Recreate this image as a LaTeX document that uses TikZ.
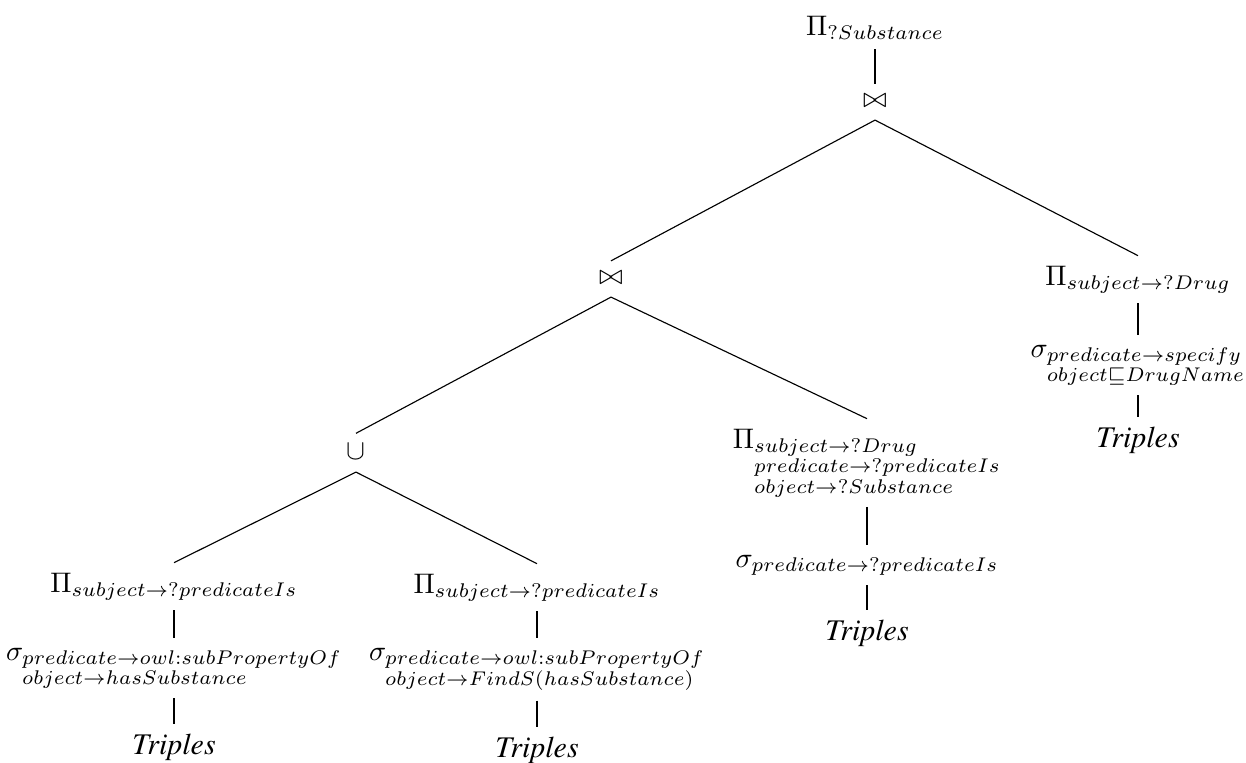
\documentclass[tikz,border=0pt]{standalone}
\usepackage{amsmath}
\usepackage[T1,TU]{fontenc}
% Times italic for the leaf relations
\newcommand\leaffont{\fontencoding{T1}\fontfamily{ptm}\fontseries{m}\fontshape{it}\fontsize{10.6}{12}\selectfont}

\tikzset{
  alg/.style={anchor=base, inner sep=3.33pt},
  op/.style={anchor=base, inner sep=3.33pt, text depth=1.1pt},
  trip/.style={anchor=base, inner sep=3.33pt, font=\leaffont},
  branch/.style={line width=0.4pt}
}

\begin{document}
\begin{tikzpicture}[x=0.3534pt, y=-0.3534pt]
\useasboundingbox (0,0) rectangle (1246,762);

% root projection and top join
\node[alg] (root) at (875,35) {$\Pi_{?Substance}$};
\node[op] (j1) at (875,107) {$\bowtie$};

% right branch: drug name lookup
\node[alg] (pR) at (1138,285) {$\Pi_{subject\rightarrow ?Drug}$};
\node[alg] (sR) at (1138,357) {$\sigma_{\begin{subarray}{l} predicate\rightarrow specify\\ object\sqsubseteq DrugName\end{subarray}}$};
\node[trip] (tR) at (1138,447) {Triples};

% inner join
\node[op] (j2) at (611,284) {$\bowtie$};

% middle branch
\node[alg] (pM) at (867,448) {$\Pi_{\begin{subarray}{l} subject\rightarrow ?Drug\\ predicate\rightarrow ?predicateIs\\ object\rightarrow ?Substance\end{subarray}}$};
\node[alg] (sM) at (867,567) {$\sigma_{predicate\rightarrow ?predicateIs}$};
\node[trip] (tM) at (867,640) {Triples};

% union of the two sub-property lookups
\node[op] (u) at (356,459) {$\cup$};

\node[alg] (pA) at (174,592) {$\Pi_{subject\rightarrow ?predicateIs}$};
\node[alg] (sA) at (174,660) {$\sigma_{\begin{subarray}{l} predicate\rightarrow owl:subPropertyOf\\ object\rightarrow hasSubstance\end{subarray}}$};
\node[trip] (tA) at (174,754) {Triples};

\node[alg] (pB) at (537,593) {$\Pi_{subject\rightarrow ?predicateIs}$};
\node[alg] (sB) at (537,660) {$\sigma_{\begin{subarray}{l} predicate\rightarrow owl:subPropertyOf\\ object\rightarrow FindS(hasSubstance)\end{subarray}}$};
\node[trip] (tB) at (537,757) {Triples};

% edges
\draw[branch] (root.south) -- (j1.north);
\draw[branch] (j1.south) -- (j2.north);
\draw[branch] (j1.south) -- (pR.north);
\draw[branch] (pR.south) -- (sR.north);
\draw[branch] (sR.south) -- (tR.north);
\draw[branch] (j2.south) -- (u.north);
\draw[branch] (j2.south) -- (pM.north);
\draw[branch] (pM.south) -- (sM.north);
\draw[branch] (sM.south) -- (tM.north);
\draw[branch] (u.south) -- (pA.north);
\draw[branch] (u.south) -- (pB.north);
\draw[branch] (pA.south) -- (sA.north);
\draw[branch] (sA.south) -- (tA.north);
\draw[branch] (pB.south) -- (sB.north);
\draw[branch] (sB.south) -- (tB.north);
\end{tikzpicture}
\end{document}
